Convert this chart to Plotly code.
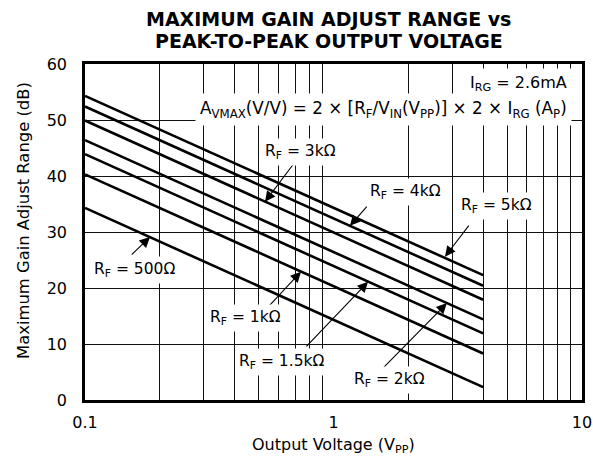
import math
import plotly.graph_objects as go

# ---- data ----
rf_labels = ["5kΩ", "4kΩ", "3kΩ", "2kΩ", "1.5kΩ", "1kΩ", "500Ω"]
v_pp = [0.1, 4.0]  # output voltage range of each line (Vpp)
gain_start = [54.3, 52.4, 49.9, 46.4, 43.9, 40.3, 34.3]  # dB at 0.1 Vpp
gain_end = [22.3, 20.4, 17.9, 14.4, 11.9, 8.3, 2.3]      # dB at 4 Vpp

x_ticks = [0.1, 1, 10]
x_minor = [0.2, 0.3, 0.4, 0.5, 0.6, 0.7, 0.8, 0.9, 2, 3, 4, 5, 6, 7, 8, 9]
y_ticks = [0, 10, 20, 30, 40, 50, 60]

# label text, label centre (paper), arrow tip (data), arrow tail (data)
labels = [
    ("R<sub>F</sub> = 3kΩ", (0.4346, 0.7381), (0.53, 35.4), (0.70, 42.5)),
    ("R<sub>F</sub> = 4kΩ", (0.6439, 0.6190), (1.165, 31.1), (1.377, 34.8)),
    ("R<sub>F</sub> = 5kΩ", (0.8270, 0.5774), (2.81, 25.6), (3.54, 31.4)),
    ("R<sub>F</sub> = 500Ω", (0.1006, 0.3869), (0.1826, 29.1), (0.152, 25.7)),
    ("R<sub>F</sub> = 1kΩ", (0.3239, 0.2440), (0.74, 22.9), (0.545, 16.6)),
    ("R<sub>F</sub> = 1.5kΩ", (0.3944, 0.1131), (1.377, 21.1), (0.768, 9.3)),
    ("R<sub>F</sub> = 2kΩ", (0.6117, 0.0595), (2.86, 17.3), (1.567, 5.5)),
]

FONT = "DejaVu Sans, Verdana, sans-serif"
LBL = 15.5

# plot area in page pixels: x 85..582, y 64..400
def px_x(p):
    return (p - 85) / 497.0

def px_y(p):
    return (400 - p) / 336.0

fig = go.Figure()
for name, y0, y1 in zip(rf_labels, gain_start, gain_end):
    fig.add_trace(go.Scatter(x=v_pp, y=[y0, y1], mode="lines",
                             line=dict(color="black", width=2.6),
                             name=name, showlegend=False, hoverinfo="skip"))

annotations = []
for text, (px, py), (tx, ty), (ax, ay) in labels:
    annotations.append(dict(text="", x=math.log10(tx), y=ty, xref="x", yref="y",
                            ax=math.log10(ax), ay=ay, axref="x", ayref="y",
                            showarrow=True, arrowhead=2, arrowsize=1.9,
                            arrowwidth=1.1, arrowcolor="black", standoff=0))
for text, (px, py), _, _ in labels:
    annotations.append(dict(text=text, x=px, y=py, xref="paper", yref="paper",
                            xanchor="center", yanchor="middle",
                            showarrow=False, bgcolor="white", borderpad=3,
                            font=dict(family=FONT, size=LBL, color="black")))

annotations.append(dict(text="I<sub>RG</sub> = 2.6mA", x=px_x(572), y=px_y(83),
                        xref="paper", yref="paper", xanchor="right", yanchor="middle",
                        showarrow=False, bgcolor="white", borderpad=4,
                        font=dict(family=FONT, size=16, color="black")))
annotations.append(dict(text="A<sub>VMAX</sub>(V/V) = 2 × [R<sub>F</sub>/V<sub>IN</sub>(V<sub>PP</sub>)] × 2 × I<sub>RG</sub> (A<sub>P</sub>)",
                        x=px_x(572), y=px_y(110), xref="paper", yref="paper",
                        xanchor="right", yanchor="middle",
                        showarrow=False, bgcolor="white", borderpad=4,
                        font=dict(family=FONT, size=16.8, color="black")))

# two-line bold title (separate lines for tight spacing)
for line, ypx in [("MAXIMUM GAIN ADJUST RANGE vs", 19), ("PEAK-TO-PEAK OUTPUT VOLTAGE", 41)]:
    annotations.append(dict(text="<b>" + line + "</b>", x=px_x(328.5),
                            y=px_y(ypx), xref="paper", yref="paper",
                            xanchor="center", yanchor="middle", showarrow=False,
                            font=dict(family=FONT, size=19, color="black")))

# axis titles
annotations.append(dict(text="Output Voltage (V<sub>PP</sub>)", x=px_x(333), y=px_y(445),
                        xref="paper", yref="paper", xanchor="center", yanchor="middle",
                        showarrow=False, font=dict(family=FONT, size=16, color="black")))
annotations.append(dict(text="Maximum Gain Adjust Range (dB)", x=px_x(23), y=px_y(221),
                        xref="paper", yref="paper", xanchor="center", yanchor="middle",
                        textangle=-90, showarrow=False,
                        font=dict(family=FONT, size=16.4, color="black")))

fig.update_layout(
    width=593, height=465,
    margin=dict(l=85, r=11, t=64, b=65),
    paper_bgcolor="white", plot_bgcolor="white",
    font=dict(family=FONT, size=16, color="black"),
    annotations=annotations,
    showlegend=False,
)
fig.update_xaxes(type="log", range=[-1, 1], tickvals=x_ticks, ticktext=["0.1", "1", "10"],
                 showgrid=False, zeroline=False, ticks="", automargin=False,
                 showline=True, linecolor="black", linewidth=2.5, mirror=True,
                 tickfont=dict(size=16), ticklabelstandoff=6,
                 minor=dict(tickvals=x_minor, showgrid=True, gridcolor="#111",
                            gridwidth=1.2, ticks=""))
fig.update_yaxes(range=[0, 60], tickvals=y_ticks, showgrid=True, gridcolor="#111",
                 gridwidth=1.2, zeroline=False, ticks="", automargin=False,
                 showline=True, linecolor="black", linewidth=2.5, mirror=True,
                 tickfont=dict(size=16), ticklabelstandoff=12)

fig.write_html("out.html", config={"displayModeBar": False},
               post_script="document.body.style.margin='0';document.body.style.overflow='hidden';")
